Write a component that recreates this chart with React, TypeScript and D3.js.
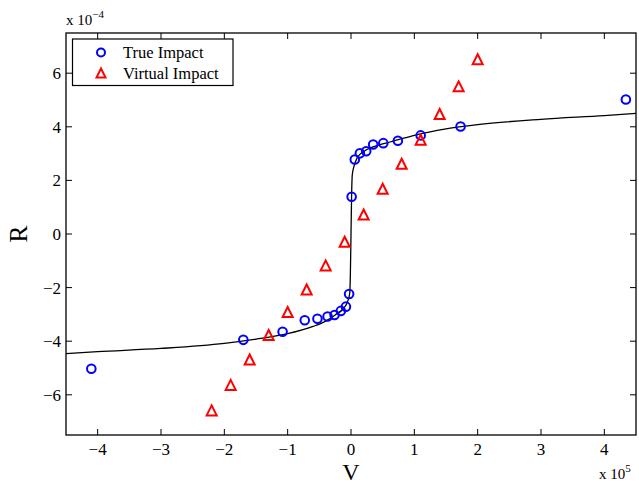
import React from "react";
import * as d3 from "d3";

const trueV = [-4.10, -1.70, -1.08, -0.73, -0.53, -0.37, -0.26, -0.16, -0.08, -0.03, 0.01, 0.06, 0.14, 0.24, 0.35, 0.51, 0.74, 1.10, 1.73, 4.34];
const trueR = [-5.03, -3.95, -3.65, -3.22, -3.16, -3.08, -3.02, -2.87, -2.71, -2.24, 1.39, 2.78, 3.01, 3.09, 3.34, 3.39, 3.48, 3.68, 4.01, 5.02];

const virtV = [-2.2, -1.9, -1.6, -1.3, -1.0, -0.7, -0.4, -0.1, 0.2, 0.5, 0.8, 1.1, 1.4, 1.7, 2.0];
const virtR = [-6.60, -5.65, -4.70, -3.79, -2.93, -2.09, -1.19, -0.31, 0.71, 1.67, 2.60, 3.50, 4.46, 5.49, 6.50];

const fitV = [-4.5, -4.0, -3.0, -2.0, -1.5, -1.0, -0.6, -0.4, -0.25, -0.12, -0.05, -0.02, -0.01, 0, 0.01, 0.02, 0.05, 0.1, 0.2, 0.35, 0.5, 0.75, 1.0, 1.5, 2.0, 3.0, 4.0, 4.5];
const fitR = [-4.46, -4.39, -4.27, -4.08, -3.92, -3.72, -3.45, -3.25, -3.02, -2.78, -2.5, -2.2, -1.5, 0, 1.5, 2.2, 2.55, 2.85, 3.08, 3.25, 3.36, 3.52, 3.68, 3.92, 4.08, 4.28, 4.42, 4.50];

const xTicks = [-4, -3, -2, -1, 0, 1, 2, 3, 4];
const yTicks = [-6, -4, -2, 0, 2, 4, 6];

const legendLabels = ["True Impact", "Virtual Impact"];

const W = 639, H = 485;
const L = 66, R = 636, T = 33, B = 435;
const FONT = "'Liberation Serif', 'Times New Roman', serif";

const fmt = (v: number) => (v < 0 ? "\u2212" + Math.abs(v) : String(v));

function tri(cx: number, cy: number, s: number) {
  const h = s * 0.9;
  return `M${cx},${cy - h / 2 - 1}L${cx + s / 2},${cy + h / 2}L${cx - s / 2},${cy + h / 2}Z`;
}

export default function App() {
  const x = d3.scaleLinear().domain([-4.5, 4.5]).range([L, R]);
  const y = d3.scaleLinear().domain([-7.5, 7.5]).range([B, T]);
  const fit = fitV.map((v, i) => [v, fitR[i]] as [number, number]);
  const line = d3.line<[number, number]>().x(d => x(d[0])).y(d => y(d[1])).curve(d3.curveMonotoneX);
  const tl = 6;
  return (
    <svg width={W} height={H} style={{ position: "absolute", left: 0, top: 0, background: "#fff" }} fontFamily={FONT}>
      <rect x={0} y={0} width={W} height={H} fill="#fff" />
      <path d={line(fit) || ""} fill="none" stroke="#000" strokeWidth={1.3} />
      {trueV.map((v, i) => (
        <circle key={"c" + i} cx={x(v)} cy={y(trueR[i])} r={4.3} fill="none" stroke="#0000ff" strokeWidth={2} />
      ))}
      {virtV.map((v, i) => (
        <path key={"t" + i} d={tri(x(v), y(virtR[i]), 10)} fill="none" stroke="#ff0000" strokeWidth={2} />
      ))}
      <rect x={L} y={T} width={R - L} height={B - T} fill="none" stroke="#000" strokeWidth={1.3} />
      {xTicks.map(t => (
        <g key={"xt" + t}>
          <line x1={x(t)} x2={x(t)} y1={B} y2={B - tl} stroke="#000" strokeWidth={1} />
          <line x1={x(t)} x2={x(t)} y1={T} y2={T + tl} stroke="#000" strokeWidth={1} />
          <text x={x(t)} y={455} textAnchor="middle" fontSize={17}>{fmt(t)}</text>
        </g>
      ))}
      {yTicks.map(t => (
        <g key={"yt" + t}>
          <line x1={L} x2={L + tl} y1={y(t)} y2={y(t)} stroke="#000" strokeWidth={1} />
          <line x1={R} x2={R - tl} y1={y(t)} y2={y(t)} stroke="#000" strokeWidth={1} />
          <text x={61} y={y(t) + 6} textAnchor="end" fontSize={17}>{fmt(t)}</text>
        </g>
      ))}
      <text x={66} y={25} fontSize={15}>x 10<tspan dy={-7} fontSize={11}>{"\u22124"}</tspan></text>
      <text x={599} y={479} fontSize={15}>x 10<tspan dy={-7} fontSize={11}>5</tspan></text>
      <text x={351} y={480} textAnchor="middle" fontSize={24}>V</text>
      <text transform={`translate(27,${y(0)}) rotate(-90)`} textAnchor="middle" fontSize={26}>R</text>
      <rect x={72.5} y={39} width={160.5} height={46.5} fill="#fff" stroke="#000" strokeWidth={1.2} />
      <circle cx={101} cy={52.5} r={4} fill="none" stroke="#0000ff" strokeWidth={2} />
      <path d={tri(101, 73.5, 9)} fill="none" stroke="#ff0000" strokeWidth={2} />
      <text x={123} y={58} fontSize={16.5}>{legendLabels[0]}</text>
      <text x={123} y={79} fontSize={16.5}>{legendLabels[1]}</text>
    </svg>
  );
}
